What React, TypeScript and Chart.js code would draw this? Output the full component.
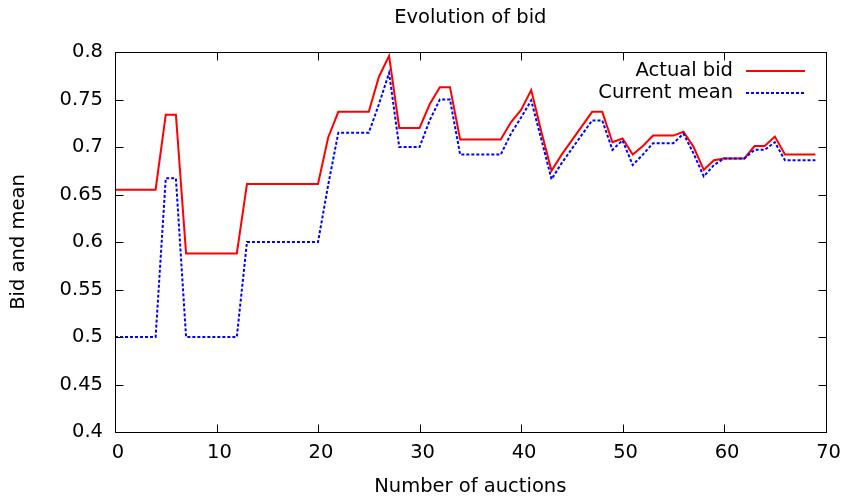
import React, { useEffect, useRef } from "react";
import { Chart, registerables } from "chart.js";

Chart.register(...registerables);

const auctions: number[] = Array.from({ length: 70 }, (_, i) => i);

const actualBid: number[] = [
  0.655, 0.655, 0.655, 0.655, 0.655,
  0.734, 0.734,
  0.588, 0.588, 0.588, 0.588, 0.588, 0.588,
  0.661, 0.661, 0.661, 0.661, 0.661, 0.661, 0.661, 0.661,
  0.71,
  0.737, 0.737, 0.737, 0.737,
  0.774, 0.796,
  0.72, 0.72, 0.72,
  0.745, 0.763, 0.763,
  0.708, 0.708, 0.708, 0.708, 0.708,
  0.726, 0.739, 0.76, 0.716, 0.675, 0.692, 0.707, 0.722, 0.737, 0.737,
  0.705, 0.709, 0.692, 0.701, 0.712, 0.712, 0.712, 0.716, 0.7, 0.676, 0.686,
  0.688, 0.688, 0.688, 0.701, 0.701, 0.711,
  0.692, 0.692, 0.692, 0.692,
];

const currentMean: number[] = [
  0.5, 0.5, 0.5, 0.5, 0.5,
  0.667, 0.667,
  0.5, 0.5, 0.5, 0.5, 0.5, 0.5,
  0.6, 0.6, 0.6, 0.6, 0.6, 0.6, 0.6, 0.6,
  0.66,
  0.715, 0.715, 0.715, 0.715,
  0.745, 0.778,
  0.7, 0.7, 0.7,
  0.728, 0.75, 0.75,
  0.692, 0.692, 0.692, 0.692, 0.692,
  0.714, 0.731, 0.749, 0.708, 0.666, 0.683, 0.698, 0.713, 0.728, 0.728,
  0.697, 0.707, 0.681, 0.692, 0.704, 0.704, 0.704, 0.714, 0.693, 0.669, 0.681,
  0.688, 0.688, 0.688, 0.697, 0.697, 0.705,
  0.686, 0.686, 0.686, 0.686,
];

const xTicks: number[] = [0, 10, 20, 30, 40, 50, 60, 70];
const yTicks: number[] = [0.4, 0.45, 0.5, 0.55, 0.6, 0.65, 0.7, 0.75, 0.8];

const titleText = "Evolution of bid";
const xTitle = "Number of auctions";
const yTitle = "Bid and mean";
const seriesNames = ["Actual bid", "Current mean"];
const FONT = '"DejaVu Sans", sans-serif';
const FS = 19.5;

export default function App() {
  const ref = useRef<HTMLCanvasElement | null>(null);

  useEffect(() => {
    if (!ref.current) return;
    Chart.defaults.font.family = FONT;

    const decor = {
      id: "decor",
      afterDraw(chart: any) {
        const { ctx, chartArea: a, scales } = chart;
        ctx.save();
        ctx.strokeStyle = "#000";
        ctx.lineWidth = 1;
        ctx.setLineDash([]);
        const L = Math.round(a.left) + 0.5;
        const R = Math.round(a.right) + 0.5;
        const T = Math.round(a.top) + 0.5;
        const B = Math.round(a.bottom) + 0.5;
        ctx.strokeRect(L, T, R - L, B - T);
        const tl = 8;
        ctx.beginPath();
        xTicks.forEach((v) => {
          const px = Math.round(scales.x.getPixelForValue(v)) + 0.5;
          ctx.moveTo(px, B);
          ctx.lineTo(px, B - tl);
          ctx.moveTo(px, T);
          ctx.lineTo(px, T + tl);
        });
        yTicks.forEach((v) => {
          const py = Math.round(scales.y.getPixelForValue(v)) + 0.5;
          ctx.moveTo(L, py);
          ctx.lineTo(L + tl, py);
          ctx.moveTo(R, py);
          ctx.lineTo(R - tl, py);
        });
        ctx.stroke();

        ctx.fillStyle = "#000";
        ctx.font = `${FS}px ${FONT}`;
        ctx.textAlign = "center";
        ctx.textBaseline = "middle";
        const cx = (a.left + a.right) / 2;
        ctx.fillText(titleText, cx, 18);
        ctx.fillText(xTitle, cx, 487);
        ctx.save();
        ctx.translate(19, (a.top + a.bottom) / 2);
        ctx.rotate(-Math.PI / 2);
        ctx.fillText(yTitle, 0, 0);
        ctx.restore();

        // legend
        const colors = ["#ff0000", "#0000ff"];
        const dashes = [[], [3, 2]];
        const ys = [71, 93];
        ctx.textAlign = "right";
        seriesNames.forEach((n, i) => {
          ctx.fillStyle = "#000";
          ctx.fillText(n, 733, ys[i]);
          ctx.strokeStyle = colors[i];
          ctx.lineWidth = 2;
          ctx.setLineDash(dashes[i]);
          ctx.beginPath();
          ctx.moveTo(746, ys[i]);
          ctx.lineTo(805, ys[i]);
          ctx.stroke();
        });
        ctx.restore();
      },
    };

    const chart = new Chart(ref.current, {
      type: "line",
      data: {
        labels: auctions,
        datasets: [
          {
            label: seriesNames[0],
            data: auctions.map((x, i) => ({ x, y: actualBid[i] })),
            borderColor: "#ff0000",
            borderWidth: 2,
            pointRadius: 0,
            tension: 0,
            fill: false,
            order: 1,
          },
          {
            label: seriesNames[1],
            data: auctions.map((x, i) => ({ x, y: currentMean[i] })),
            borderColor: "#0000ff",
            borderWidth: 2,
            borderDash: [3, 2],
            pointRadius: 0,
            tension: 0,
            fill: false,
            order: 0,
          },
        ],
      },
      options: {
        responsive: false,
        animation: false,
        layout: { padding: { top: 52, right: 19, left: 0, bottom: 0 } },
        plugins: {
          legend: { display: false },
          title: { display: false },
          tooltip: { enabled: false },
        },
        scales: {
          x: {
            type: "linear",
            min: 0,
            max: 70,
            grid: { display: false, drawTicks: false },
            border: { display: false },
            ticks: {
              stepSize: 10,
              color: "#000",
              font: { size: FS, family: FONT },
              padding: 9,
              labelOffset: 3,
              maxRotation: 0,
            },
            afterFit: (s: any) => {
              s.height = 65;
            },
          },
          y: {
            type: "linear",
            min: 0.4,
            max: 0.8,
            grid: { display: false, drawTicks: false },
            border: { display: false },
            ticks: {
              stepSize: 0.05,
              color: "#000",
              font: { size: FS, family: FONT },
              padding: 12,
              callback: (v: any) => String(Number(Number(v).toFixed(2))),
            },
            afterFit: (s: any) => {
              s.width = 115;
            },
          },
        },
      },
      plugins: [decor],
    });
    return () => chart.destroy();
  }, []);

  return (
    <div style={{ position: "fixed", left: 0, top: 0, width: 847, height: 497, background: "#fff" }}>
      <canvas ref={ref} width={847} height={497} style={{ width: 847, height: 497 }} />
    </div>
  );
}
